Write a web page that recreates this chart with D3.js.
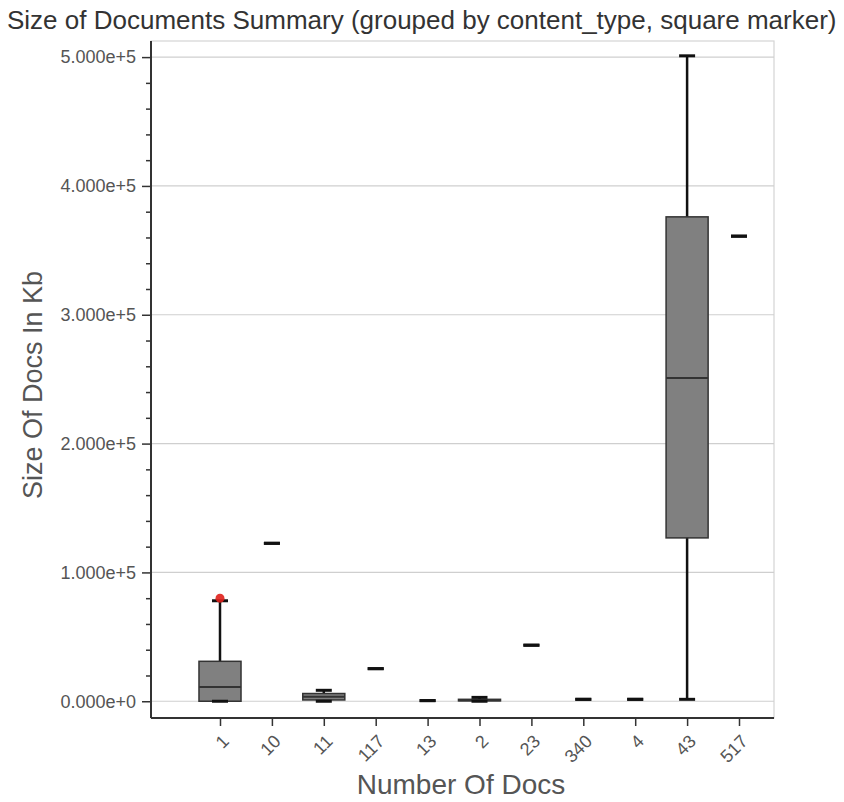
<!DOCTYPE html>
<html>
<head>
<meta charset="utf-8">
<script src="https://cdn.jsdelivr.net/npm/d3@7"></script>
<style>
  body { margin: 0; background: #fff; }
  text { font-family: "Liberation Sans", Arial, sans-serif; }
</style>
</head>
<body>
<div id="chart"></div>
<script>
var svgWidth = 844;
var svgHeight = 802;

var margin = { top: 41, right: 70, bottom: 84, left: 151 };
var width = svgWidth - margin.left - margin.right;
var height = svgHeight - margin.top - margin.bottom;

// data
var categories   = ["1", "10", "11", "117", "13", "2", "23", "340", "4", "43", "517"];
var lowWhisker   = [0, 122600, 0, 25300, 500, 0, 43500, 1500, 1500, 1500, 361000];
var q1Values     = [0, 122600, 1000, 25300, 500, 300, 43500, 1500, 1500, 126800, 361000];
var medianValues = [11000, 122600, 3500, 25300, 500, 800, 43500, 1500, 1500, 251000, 361000];
var q3Values     = [31000, 122600, 6000, 25300, 500, 1500, 43500, 1500, 1500, 376000, 361000];
var highWhisker  = [78000, 122600, 8500, 25300, 500, 3000, 43500, 1500, 1500, 501000, 361000];
var outlierCats   = ["1"];
var outlierValues = [80000];
var yTickValues = [0, 100000, 200000, 300000, 400000, 500000];

var boxes = categories.map(function(c, i) {
  return { cat: c, lo: lowWhisker[i], q1: q1Values[i], med: medianValues[i], q3: q3Values[i], hi: highWhisker[i] };
});
var outliers = outlierCats.map(function(c, i) { return { cat: c, value: outlierValues[i] }; });

var svg = d3.select("#chart")
  .append("svg")
  .attr("width", svgWidth)
  .attr("height", svgHeight);

var chartGroup = svg.append("g")
  .attr("transform", `translate(${margin.left}, ${margin.top})`);

var xScale = d3.scalePoint()
  .domain(categories)
  .range([69, width - 35]);

var step = xScale.step();
var boxWidth = step * 0.81;
var capWidth = 16;

var yScale = d3.scaleLinear()
  .domain([-13000, 512500])
  .range([height, 0]);

// frame (top/right) and grid
chartGroup.append("rect")
  .attr("x", 0).attr("y", 0)
  .attr("width", width).attr("height", height)
  .attr("fill", "none")
  .attr("stroke", "#d4d4d4")
  .attr("stroke-width", 1.2);

chartGroup.append("g")
  .selectAll("line")
  .data(yTickValues)
  .enter()
  .append("line")
  .attr("x1", 0).attr("x2", width)
  .attr("y1", d => yScale(d)).attr("y2", d => yScale(d))
  .attr("stroke", "#cfcfcf")
  .attr("stroke-width", 1.2);

// y axis with minor ticks
var minorTicks = d3.range(0, 520000, 20000).filter(d => yTickValues.indexOf(d) < 0);
var yMinor = chartGroup.append("g")
  .call(d3.axisLeft(yScale).tickValues(minorTicks).tickSize(5).tickFormat(""));
yMinor.select(".domain").remove();
yMinor.selectAll("line").attr("stroke", "#333").attr("stroke-width", 1.5);

var yAxis = chartGroup.append("g")
  .call(d3.axisLeft(yScale)
    .tickValues(yTickValues)
    .tickSize(9)
    .tickPadding(6)
    .tickFormat(d => d3.format(".3e")(d)));
yAxis.select(".domain").remove();
yAxis.selectAll("line").attr("stroke", "#333").attr("stroke-width", 1.5);
yAxis.selectAll("text")
  .attr("fill", "#555")
  .style("font-size", "18px");

chartGroup.append("line")
  .attr("x1", 0).attr("x2", 0)
  .attr("y1", 0).attr("y2", height)
  .attr("stroke", "#333").attr("stroke-width", 2);

// x axis
var xAxis = chartGroup.append("g")
  .attr("transform", `translate(0, ${height})`)
  .call(d3.axisBottom(xScale).tickSize(8).tickSizeOuter(0));
xAxis.select(".domain").remove();
xAxis.selectAll("line").attr("stroke", "#333").attr("stroke-width", 1.5);
xAxis.selectAll("text")
  .attr("fill", "#555")
  .style("font-size", "18px")
  .attr("text-anchor", "end")
  .attr("dy", "0.35em")
  .attr("y", 0)
  .attr("transform", "translate(5, 20) rotate(-45)");

chartGroup.append("line")
  .attr("x1", 0).attr("x2", width)
  .attr("y1", height).attr("y2", height)
  .attr("stroke", "#333").attr("stroke-width", 2);

// whiskers
var boxGroup = chartGroup.append("g");

boxGroup.selectAll(".whisker")
  .data(boxes)
  .enter()
  .append("line")
  .attr("class", "whisker")
  .attr("x1", d => xScale(d.cat)).attr("x2", d => xScale(d.cat))
  .attr("y1", d => yScale(d.hi)).attr("y2", d => yScale(d.lo))
  .attr("stroke", "#111")
  .attr("stroke-width", 2.5);

// boxes
boxGroup.selectAll(".box")
  .data(boxes.filter(d => d.q3 > d.q1))
  .enter()
  .append("rect")
  .attr("class", "box")
  .attr("x", d => xScale(d.cat) - boxWidth / 2)
  .attr("y", d => yScale(d.q3))
  .attr("width", boxWidth)
  .attr("height", d => yScale(d.q1) - yScale(d.q3))
  .attr("fill", "#808080")
  .attr("stroke", "#333")
  .attr("stroke-width", 1.5);

boxGroup.selectAll(".median")
  .data(boxes.filter(d => d.q3 > d.q1))
  .enter()
  .append("line")
  .attr("class", "median")
  .attr("x1", d => xScale(d.cat) - boxWidth / 2)
  .attr("x2", d => xScale(d.cat) + boxWidth / 2)
  .attr("y1", d => yScale(d.med)).attr("y2", d => yScale(d.med))
  .attr("stroke", "#333")
  .attr("stroke-width", 2);

// whisker caps
["lo", "hi"].forEach(function(key) {
  boxGroup.selectAll(".cap-" + key)
    .data(boxes)
    .enter()
    .append("line")
    .attr("class", "cap-" + key)
    .attr("x1", d => xScale(d.cat) - capWidth / 2)
    .attr("x2", d => xScale(d.cat) + capWidth / 2)
    .attr("y1", d => yScale(d[key])).attr("y2", d => yScale(d[key]))
    .attr("stroke", "#111")
    .attr("stroke-width", 3);
});

// outliers
chartGroup.selectAll(".outlier")
  .data(outliers)
  .enter()
  .append("circle")
  .attr("class", "outlier")
  .attr("cx", d => xScale(d.cat))
  .attr("cy", d => yScale(d.value))
  .attr("r", 4.5)
  .attr("fill", "#e0201b")
  .attr("opacity", 0.9);

// titles
svg.append("text")
  .attr("x", 7)
  .attr("y", 29)
  .attr("fill", "#333")
  .style("font-size", "26px")
  .text("Size of Documents Summary (grouped by content_type, square marker)");

svg.append("text")
  .attr("x", 461)
  .attr("y", 794)
  .attr("text-anchor", "middle")
  .attr("fill", "#555")
  .style("font-size", "28px")
  .text("Number Of Docs");

svg.append("text")
  .attr("transform", "translate(42, 385) rotate(-90)")
  .attr("text-anchor", "middle")
  .attr("fill", "#555")
  .style("font-size", "27px")
  .text("Size Of Docs In Kb");
</script>
</body>
</html>
